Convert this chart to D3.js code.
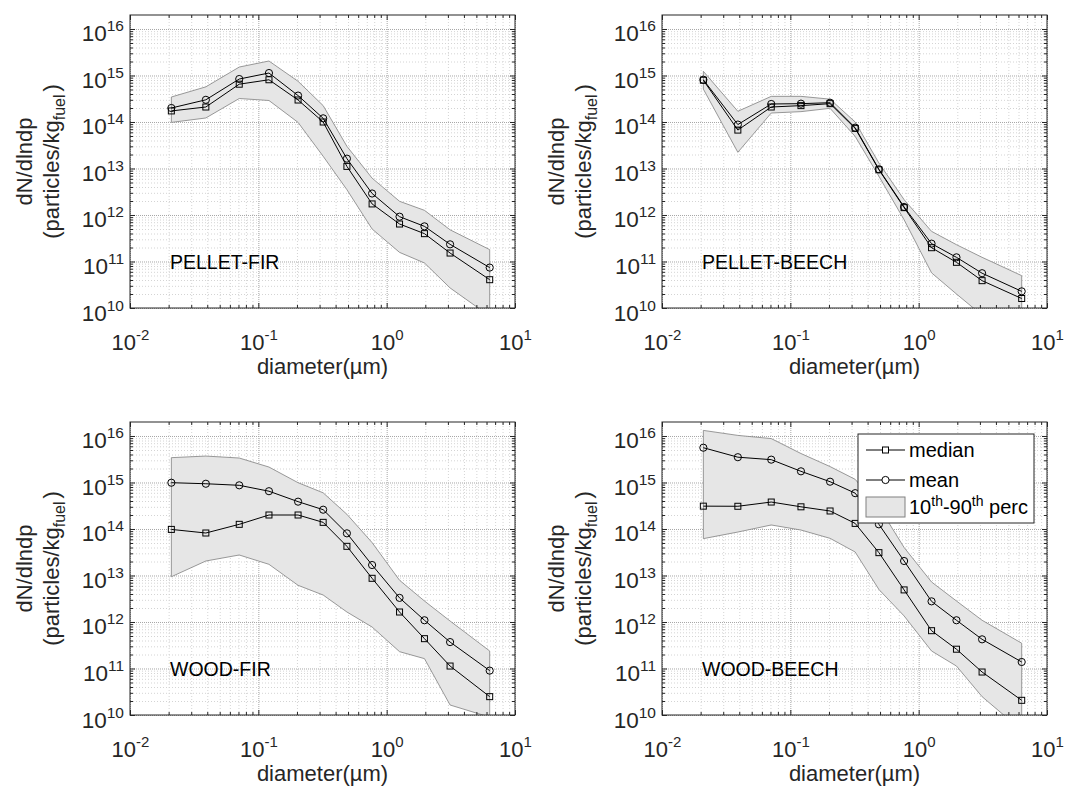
<!DOCTYPE html>
<html>
<head>
<meta charset="utf-8">
<script src="https://cdn.jsdelivr.net/npm/d3@7"></script>
<style>
  body { margin: 0; background: #fff; }
  svg { display: block; font-family: "Liberation Sans", Arial, sans-serif; }
</style>
</head>
<body>
<div id="chartContainer"></div>
<script>
// Particle diameters (µm) of the impactor stages.
const diameters = [0.021, 0.039, 0.071, 0.121, 0.204, 0.32, 0.49, 0.77, 1.26, 1.97, 3.12, 6.35];

const panelNames = ["PELLET-FIR", "PELLET-BEECH", "WOOD-FIR", "WOOD-BEECH"];

// dN/dlndp (particles/kg fuel).
const pelletFirMedian = [1.73e14, 2.1e14, 6.5e14, 8.1e14, 2.97e14, 1.0e14, 1.11e13, 1.73e12, 6.4e11, 3.97e11, 1.52e11, 4.06e10];
const pelletFirMean   = [2.0e14, 3.0e14, 8.4e14, 1.13e15, 3.7e14, 1.2e14, 1.63e13, 2.9e12, 9.2e11, 5.7e11, 2.34e11, 7.4e10];
const pelletFirP90    = [3.45e14, 5.7e14, 1.52e15, 2.05e15, 7.5e14, 2.25e14, 3.0e13, 6.2e12, 1.97e12, 1.26e12, 4.8e11, 1.8e11];
const pelletFirP10    = [9.8e13, 1.22e14, 3.2e14, 2.9e14, 9.8e13, 1.83e13, 3.5e12, 5.0e11, 1.57e11, 9.3e10, 2.7e10, 6.7e9];

const pelletBeechMedian = [7.9e14, 6.7e13, 2.1e14, 2.25e14, 2.48e14, 7.3e13, 9.4e12, 1.44e12, 1.98e11, 9.6e10, 3.87e10, 1.6e10];
const pelletBeechMean   = [8.1e14, 8.8e13, 2.44e14, 2.48e14, 2.6e14, 7.55e13, 9.6e12, 1.49e12, 2.42e11, 1.23e11, 5.6e10, 2.28e10];
const pelletBeechP90    = [1.23e15, 1.7e14, 3.56e14, 3.56e14, 3.1e14, 1.0e14, 1.31e13, 2.14e12, 4.45e11, 2.3e11, 1.23e11, 4.96e10];
const pelletBeechP10    = [5.1e14, 2.23e13, 1.56e14, 1.67e14, 1.97e14, 4.9e13, 6.8e12, 7.9e11, 5.7e10, 2.0e10, 7e9, 3e9];

const woodFirMedian = [9.8e13, 8.2e13, 1.26e14, 2.0e14, 2.0e14, 1.39e14, 4.24e13, 8.7e12, 1.64e12, 4.38e11, 1.13e11, 2.48e10];
const woodFirMean   = [9.9e14, 9.4e14, 8.7e14, 6.5e14, 3.87e14, 2.6e14, 8.07e13, 1.68e13, 3.3e12, 1.09e12, 3.7e11, 9.0e10];
const woodFirP90    = [3.42e15, 3.7e15, 3.36e15, 2.15e15, 9.9e14, 6.0e14, 2.07e14, 5.1e13, 7.9e12, 2.83e12, 1.05e12, 2.38e11];
const woodFirP10    = [9.4e12, 2.05e13, 2.76e13, 1.74e13, 6.15e12, 3.8e12, 1.64e12, 7.8e11, 2.3e11, 1.63e11, 1.64e10, 9e9];

const woodBeechMedian = [3.1e14, 3.08e14, 3.8e14, 3.0e14, 2.44e14, 1.32e14, 3.1e13, 4.9e12, 6.5e11, 2.6e11, 8.4e10, 2.07e10];
const woodBeechMean   = [5.6e15, 3.5e15, 3.1e15, 1.74e15, 1.04e15, 5.9e14, 1.26e14, 2.05e13, 2.78e12, 1.09e12, 4.24e11, 1.38e11];
const woodBeechP90    = [1.32e16, 1.03e16, 8.8e15, 4.2e15, 2.2e15, 1.17e15, 3.0e14, 4.0e13, 7.25e12, 2.83e12, 1.09e12, 3.5e11];
const woodBeechP10    = [6.2e13, 8.6e13, 1.22e14, 9.5e13, 6.3e13, 3.2e13, 5.0e12, 1.35e12, 2.38e11, 1.13e11, 2.48e10, 4.7e9];

// Axis ticks.
const majorX = [1e-2, 1e-1, 1e0, 1e1];
const minorX = [-2, -1, 0].flatMap(e => d3.range(2, 10).map(m => +(m * 10 ** e).toPrecision(3)));
const majorY = [1e10, 1e11, 1e12, 1e13, 1e14, 1e15, 1e16];
const minorY = [10, 11, 12, 13, 14, 15].flatMap(e => d3.range(2, 10).map(m => m * 10 ** e));

const legendLabels = ["median", "mean"];

function createChart() {
    // Specify the chart’s dimensions.
    const width = 1066;
    const height = 787;
    const panelW = 385;
    const panelH = 293;
    const panelPos = [[130, 15], [662, 15], [130, 422], [662, 422]];
    const textColor = "#262626";

    const panels = [
        { name: panelNames[0], median: pelletFirMedian, mean: pelletFirMean, lo: pelletFirP10, hi: pelletFirP90 },
        { name: panelNames[1], median: pelletBeechMedian, mean: pelletBeechMean, lo: pelletBeechP10, hi: pelletBeechP90 },
        { name: panelNames[2], median: woodFirMedian, mean: woodFirMean, lo: woodFirP10, hi: woodFirP90 },
        { name: panelNames[3], median: woodBeechMedian, mean: woodBeechMean, lo: woodBeechP10, hi: woodBeechP90 }
    ];

    // Create the log scales shared by all panels.
    const x = d3.scaleLog().domain([1e-2, 1e1]).range([0, panelW]);
    const y = d3.scaleLog().domain([1e10, 2e16]).range([panelH, 0]);

    // Create the SVG container.
    const svg = d3.create("svg")
        .attr("width", width)
        .attr("height", height)
        .attr("viewBox", [0, 0, width, height]);

    const idx = d3.range(diameters.length);

    panels.forEach((p, k) => {
        const g = svg.append("g")
            .attr("transform", `translate(${panelPos[k][0]},${panelPos[k][1]})`);

        g.append("clipPath").attr("id", `clip${k}`)
            .append("rect").attr("width", panelW).attr("height", panelH);

        // Grid lines (minor first, then major).
        const grid = (axis, ticks, size, color, dash) => sel => {
            sel.call(axis.tickValues(ticks).tickSize(size).tickFormat(""));
            sel.select(".domain").remove();
            sel.selectAll(".tick line")
                .attr("stroke", color)
                .attr("stroke-dasharray", dash);
        };
        g.append("g").attr("transform", `translate(0,${panelH})`)
            .call(grid(d3.axisBottom(x), minorX, -panelH, "#d4d4d4", "1,2"));
        g.append("g")
            .call(grid(d3.axisLeft(y), minorY, -panelW, "#d4d4d4", "1,2"));
        g.append("g").attr("transform", `translate(0,${panelH})`)
            .call(grid(d3.axisBottom(x), majorX, -panelH, "#a6a6a6", "1,1"));
        g.append("g")
            .call(grid(d3.axisLeft(y), majorY, -panelW, "#a6a6a6", "1,1"));

        // 10th-90th percentile band.
        g.append("path")
            .datum(idx)
            .attr("clip-path", `url(#clip${k})`)
            .attr("fill", "#e6e6e6")
            .attr("stroke", "#808080")
            .attr("stroke-width", 0.8)
            .attr("d", d3.area()
                .x(i => x(diameters[i]))
                .y0(i => y(p.lo[i]))
                .y1(i => y(p.hi[i])));

        const line = values => d3.line()
            .x(i => x(diameters[i]))
            .y(i => y(values[i]));

        // Median line with squares.
        g.append("path").datum(idx)
            .attr("fill", "none").attr("stroke", "#000").attr("stroke-width", 1)
            .attr("d", line(p.median));
        g.append("g").selectAll("rect")
            .data(idx)
            .join("rect")
            .attr("x", i => x(diameters[i]) - 3)
            .attr("y", i => y(p.median[i]) - 3)
            .attr("width", 6).attr("height", 6)
            .attr("fill", "none").attr("stroke", "#000");

        // Mean line with circles.
        g.append("path").datum(idx)
            .attr("fill", "none").attr("stroke", "#000").attr("stroke-width", 1)
            .attr("d", line(p.mean));
        g.append("g").selectAll("circle")
            .data(idx)
            .join("circle")
            .attr("cx", i => x(diameters[i]))
            .attr("cy", i => y(p.mean[i]))
            .attr("r", 3.6)
            .attr("fill", "none").attr("stroke", "#000");

        // Inner ticks on all four sides.
        const ticks = (makeAxis, major, minor) => sel => {
            sel.append("g").call(makeAxis().tickValues(minor).tickSize(-3).tickFormat(""))
                .call(s => s.select(".domain").remove());
            sel.append("g").call(makeAxis().tickValues(major).tickSize(-5).tickFormat(""))
                .call(s => s.select(".domain").remove());
            sel.selectAll(".tick line").attr("stroke", textColor);
        };
        g.append("g").attr("transform", `translate(0,${panelH})`)
            .call(ticks(() => d3.axisBottom(x), majorX, minorX));
        g.append("g")
            .call(ticks(() => d3.axisTop(x), majorX, minorX));
        g.append("g")
            .call(ticks(() => d3.axisLeft(y), majorY, minorY));
        g.append("g").attr("transform", `translate(${panelW},0)`)
            .call(ticks(() => d3.axisRight(y), majorY, minorY));

        // Axes box.
        g.append("rect")
            .attr("width", panelW).attr("height", panelH)
            .attr("fill", "none").attr("stroke", textColor).attr("stroke-width", 1);

        // Tick labels as powers of ten.
        const power = d => Math.round(Math.log10(d));
        const xl = g.append("g").attr("transform", `translate(0,${panelH})`)
            .call(d3.axisBottom(x).tickValues(majorX).tickSize(0).tickFormat(""))
            .attr("font-family", null).attr("font-size", null);
        xl.select(".domain").remove();
        xl.selectAll(".tick text")
            .attr("y", 42).attr("dy", null)
            .attr("font-size", 22).attr("fill", textColor)
            .call(t => t.append("tspan").text("10"))
            .call(t => t.append("tspan").attr("dy", -10).attr("font-size", 15).text(power));

        const yl = g.append("g")
            .call(d3.axisLeft(y).tickValues(majorY).tickSize(0).tickFormat(""))
            .attr("font-family", null).attr("font-size", null);
        yl.select(".domain").remove();
        yl.selectAll(".tick text")
            .attr("x", -6).attr("y", 12).attr("dy", null)
            .attr("font-size", 22.5).attr("fill", textColor)
            .call(t => t.append("tspan").text("10"))
            .call(t => t.append("tspan").attr("dy", -10).attr("font-size", 15.5).text(power));

        // Axis titles.
        g.append("text")
            .attr("x", panelW / 2).attr("y", panelH + 66)
            .attr("text-anchor", "middle")
            .attr("font-size", 22).attr("fill", textColor)
            .text("diameter(µm)");

        g.append("text")
            .attr("transform", `translate(-98,${panelH / 2}) rotate(-90)`)
            .attr("text-anchor", "middle")
            .attr("font-size", 22).attr("fill", textColor)
            .text("dN/dlndp");
        const yt = g.append("text")
            .attr("transform", `translate(-71,${panelH / 2}) rotate(-90)`)
            .attr("text-anchor", "middle")
            .attr("font-size", 22).attr("fill", textColor);
        yt.append("tspan").text("(particles/kg");
        yt.append("tspan").attr("dy", 6).attr("font-size", 16).text("fuel");
        yt.append("tspan").attr("dy", -6).attr("dx", 3).text(")");

        // Panel name.
        g.append("text")
            .attr("x", x(0.0205)).attr("y", y(1e11))
            .attr("dy", "0.36em")
            .attr("font-size", 19.5).attr("fill", "#000")
            .text(p.name);
    });

    // Legend (in the WOOD-BEECH panel).
    const legend = svg.append("g").attr("transform", "translate(858,434)");
    legend.append("rect")
        .attr("width", 176).attr("height", 89)
        .attr("fill", "#fff").attr("stroke", textColor);

    const rows = legend.selectAll(".legend")
        .data(legendLabels)
        .join("g")
        .attr("class", "legend")
        .attr("transform", (d, i) => `translate(0,${16 + i * 30})`);
    rows.append("line")
        .attr("x1", 8).attr("x2", 47)
        .attr("stroke", "#000");
    rows.filter((d, i) => i === 0).append("rect")
        .attr("x", 24.5).attr("y", -3).attr("width", 6).attr("height", 6)
        .attr("fill", "#fff").attr("stroke", "#000");
    rows.filter((d, i) => i === 1).append("circle")
        .attr("cx", 27.5).attr("r", 3.6)
        .attr("fill", "#fff").attr("stroke", "#000");
    rows.append("text")
        .attr("x", 51).attr("dy", "0.35em")
        .attr("font-size", 20).attr("fill", "#000")
        .text(d => d);

    legend.append("rect")
        .attr("x", 8).attr("y", 63).attr("width", 39).attr("height", 20)
        .attr("fill", "#e6e6e6").attr("stroke", "#808080");
    const perc = legend.append("text")
        .attr("x", 51).attr("y", 73).attr("dy", "0.35em")
        .attr("font-size", 20).attr("fill", "#000");
    perc.append("tspan").text("10");
    perc.append("tspan").attr("dy", -8).attr("font-size", 14).text("th");
    perc.append("tspan").attr("dy", 8).text("-90");
    perc.append("tspan").attr("dy", -8).attr("font-size", 14).text("th");
    perc.append("tspan").attr("dy", 8).text(" perc");

    return svg.node();
}

document.getElementById("chartContainer").appendChild(createChart());
</script>
</body>
</html>
